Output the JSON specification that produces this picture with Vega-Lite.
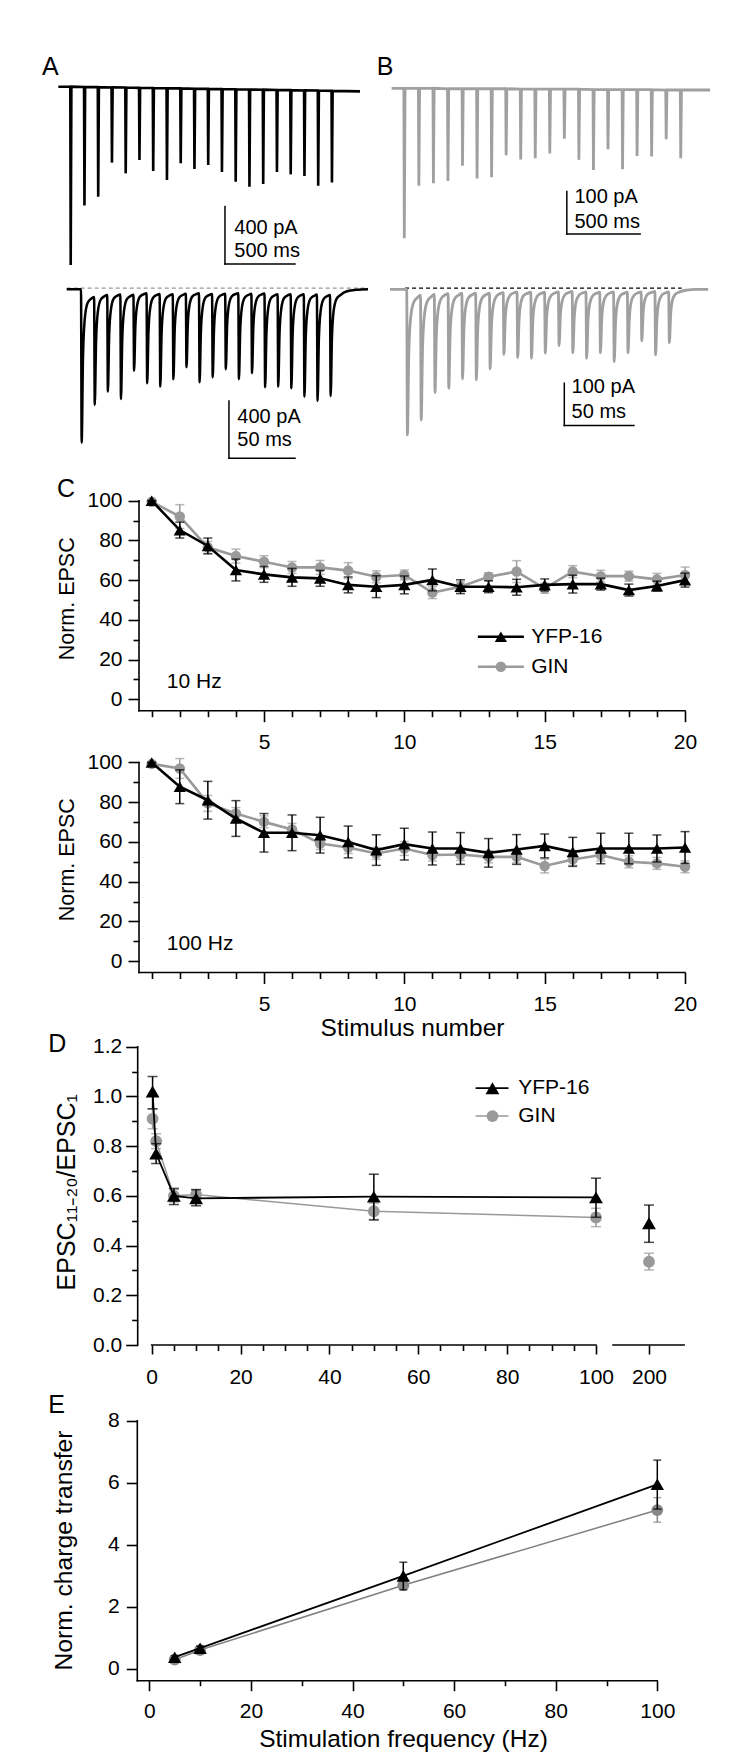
{
"$schema": "https://vega.github.io/schema/vega-lite/v6.json",
"width": 750,
"height": 1760,
"autosize": {"type": "none"},
"padding": 0,
"background": "white",
"config": {
  "view": {"stroke": null},
  "font": "Liberation Sans",
  "text": {"font": "Liberation Sans", "color": "black"},
  "axis": {"domain": false, "tickColor": "black", "labelColor": "black", "titleColor": "black", "labelFont": "Liberation Sans", "titleFont": "Liberation Sans", "labelFontSize": 21, "titleFontWeight": "normal", "grid": false, "tickWidth": 1.6, "labelFlush": false, "labelOverlap": false}
},
"resolve": {"scale": {"x": "independent", "y": "independent"}, "axis": {"x": "independent", "y": "independent"}},
"datasets": {
  "atop": [
    {"t":-90,"pA":0},
    {"t":-3,"pA":0},{"t":0,"pA":-1244},{"t":5,"pA":0},
    {"t":97,"pA":-2},{"t":100,"pA":-830},{"t":105,"pA":-2},
    {"t":197,"pA":-3},{"t":200,"pA":-768},{"t":205,"pA":-3},
    {"t":297,"pA":-5},{"t":300,"pA":-530},{"t":305,"pA":-5},
    {"t":397,"pA":-6},{"t":400,"pA":-605},{"t":405,"pA":-6},
    {"t":497,"pA":-8},{"t":500,"pA":-512},{"t":505,"pA":-8},
    {"t":597,"pA":-9},{"t":600,"pA":-588},{"t":605,"pA":-9},
    {"t":697,"pA":-11},{"t":700,"pA":-651},{"t":705,"pA":-11},
    {"t":797,"pA":-12},{"t":800,"pA":-535},{"t":805,"pA":-12},
    {"t":897,"pA":-14},{"t":900,"pA":-574},{"t":905,"pA":-14},
    {"t":997,"pA":-15},{"t":1000,"pA":-547},{"t":1005,"pA":-15},
    {"t":1097,"pA":-17},{"t":1100,"pA":-595},{"t":1105,"pA":-17},
    {"t":1197,"pA":-18},{"t":1200,"pA":-663},{"t":1205,"pA":-18},
    {"t":1297,"pA":-20},{"t":1300,"pA":-698},{"t":1305,"pA":-20},
    {"t":1397,"pA":-21},{"t":1400,"pA":-679},{"t":1405,"pA":-21},
    {"t":1497,"pA":-23},{"t":1500,"pA":-595},{"t":1505,"pA":-23},
    {"t":1597,"pA":-24},{"t":1600,"pA":-612},{"t":1605,"pA":-24},
    {"t":1697,"pA":-26},{"t":1700,"pA":-623},{"t":1705,"pA":-26},
    {"t":1797,"pA":-27},{"t":1800,"pA":-691},{"t":1805,"pA":-27},
    {"t":1897,"pA":-29},{"t":1900,"pA":-668},{"t":1905,"pA":-29},
    {"t":2104,"pA":-33}
  ],
  "btop": [
    {"t":-87,"pA":0},
    {"t":-3,"pA":0},{"t":0,"pA":-354},{"t":5,"pA":0},
    {"t":97,"pA":0},{"t":100,"pA":-230},{"t":105,"pA":0},
    {"t":197,"pA":0},{"t":200,"pA":-224},{"t":205,"pA":0},
    {"t":297,"pA":-1},{"t":300,"pA":-219},{"t":305,"pA":-1},
    {"t":397,"pA":-1},{"t":400,"pA":-183},{"t":405,"pA":-1},
    {"t":497,"pA":-1},{"t":500,"pA":-213},{"t":505,"pA":-1},
    {"t":597,"pA":-1},{"t":600,"pA":-210},{"t":605,"pA":-1},
    {"t":697,"pA":-1},{"t":700,"pA":-158},{"t":705,"pA":-1},
    {"t":797,"pA":-2},{"t":800,"pA":-168},{"t":805,"pA":-2},
    {"t":897,"pA":-2},{"t":900,"pA":-165},{"t":905,"pA":-2},
    {"t":997,"pA":-2},{"t":1000,"pA":-154},{"t":1005,"pA":-2},
    {"t":1097,"pA":-2},{"t":1100,"pA":-119},{"t":1105,"pA":-2},
    {"t":1197,"pA":-2},{"t":1200,"pA":-169},{"t":1205,"pA":-2},
    {"t":1297,"pA":-3},{"t":1300,"pA":-193},{"t":1305,"pA":-3},
    {"t":1397,"pA":-3},{"t":1400,"pA":-144},{"t":1405,"pA":-3},
    {"t":1497,"pA":-3},{"t":1500,"pA":-191},{"t":1505,"pA":-3},
    {"t":1597,"pA":-3},{"t":1600,"pA":-160},{"t":1605,"pA":-3},
    {"t":1697,"pA":-3},{"t":1700,"pA":-161},{"t":1705,"pA":-3},
    {"t":1797,"pA":-4},{"t":1800,"pA":-120},{"t":1805,"pA":-4},
    {"t":1897,"pA":-4},{"t":1900,"pA":-165},{"t":1905,"pA":-4},
    {"t":2102,"pA":-4}
  ],
  "abot": [
    {"t":-10.9,"pA":0},
    {"t":0,"pA":0},{"t":0.5,"pA":-1070},{"t":1.5,"pA":-482},{"t":2.8,"pA":-214},{"t":5,"pA":-96},{"t":8,"pA":-64},
    {"t":10,"pA":-54},{"t":10.5,"pA":-807},{"t":11.5,"pA":-363},{"t":12.8,"pA":-161},{"t":15,"pA":-73},{"t":18,"pA":-48},
    {"t":20,"pA":-40},{"t":20.5,"pA":-714},{"t":21.5,"pA":-321},{"t":22.8,"pA":-143},{"t":25,"pA":-64},{"t":28,"pA":-43},
    {"t":30,"pA":-36},{"t":30.5,"pA":-765},{"t":31.5,"pA":-344},{"t":32.8,"pA":-153},{"t":35,"pA":-69},{"t":38,"pA":-46},
    {"t":40,"pA":-38},{"t":40.5,"pA":-568},{"t":41.5,"pA":-256},{"t":42.8,"pA":-114},{"t":45,"pA":-51},{"t":48,"pA":-34},
    {"t":50,"pA":-28},{"t":50.5,"pA":-656},{"t":51.5,"pA":-295},{"t":52.8,"pA":-131},{"t":55,"pA":-59},{"t":58,"pA":-39},
    {"t":60,"pA":-33},{"t":60.5,"pA":-679},{"t":61.5,"pA":-306},{"t":62.8,"pA":-136},{"t":65,"pA":-61},{"t":68,"pA":-41},
    {"t":70,"pA":-34},{"t":70.5,"pA":-628},{"t":71.5,"pA":-283},{"t":72.8,"pA":-126},{"t":75,"pA":-57},{"t":78,"pA":-38},
    {"t":80,"pA":-31},{"t":80.5,"pA":-544},{"t":81.5,"pA":-245},{"t":82.8,"pA":-109},{"t":85,"pA":-49},{"t":88,"pA":-33},
    {"t":90,"pA":-27},{"t":90.5,"pA":-649},{"t":91.5,"pA":-292},{"t":92.8,"pA":-130},{"t":95,"pA":-58},{"t":98,"pA":-39},
    {"t":100,"pA":-32},{"t":100.5,"pA":-614},{"t":101.5,"pA":-276},{"t":102.8,"pA":-123},{"t":105,"pA":-55},{"t":108,"pA":-37},
    {"t":110,"pA":-31},{"t":110.5,"pA":-558},{"t":111.5,"pA":-251},{"t":112.8,"pA":-112},{"t":115,"pA":-50},{"t":118,"pA":-33},
    {"t":120,"pA":-28},{"t":120.5,"pA":-628},{"t":121.5,"pA":-283},{"t":122.8,"pA":-126},{"t":125,"pA":-57},{"t":128,"pA":-38},
    {"t":130,"pA":-31},{"t":130.5,"pA":-586},{"t":131.5,"pA":-264},{"t":132.8,"pA":-117},{"t":135,"pA":-53},{"t":138,"pA":-35},
    {"t":140,"pA":-29},{"t":140.5,"pA":-684},{"t":141.5,"pA":-308},{"t":142.8,"pA":-137},{"t":145,"pA":-62},{"t":148,"pA":-41},
    {"t":150,"pA":-34},{"t":150.5,"pA":-679},{"t":151.5,"pA":-306},{"t":152.8,"pA":-136},{"t":155,"pA":-61},{"t":158,"pA":-41},
    {"t":160,"pA":-34},{"t":160.5,"pA":-691},{"t":161.5,"pA":-311},{"t":162.8,"pA":-138},{"t":165,"pA":-62},{"t":168,"pA":-41},
    {"t":170,"pA":-35},{"t":170.5,"pA":-749},{"t":171.5,"pA":-337},{"t":172.8,"pA":-150},{"t":175,"pA":-67},{"t":178,"pA":-45},
    {"t":180,"pA":-37},{"t":180.5,"pA":-779},{"t":181.5,"pA":-351},{"t":182.8,"pA":-156},{"t":185,"pA":-70},{"t":188,"pA":-47},
    {"t":190,"pA":-39},{"t":190.5,"pA":-744},{"t":191.5,"pA":-335},{"t":192.8,"pA":-149},{"t":195,"pA":-67},{"t":198,"pA":-40},
    {"t":203,"pA":-14},{"t":210,"pA":-4},{"t":219,"pA":0}
  ],
  "bbot": [
    {"t":-12.1,"pA":0},
    {"t":0,"pA":0},{"t":0.5,"pA":-344},{"t":1.5,"pA":-155},{"t":2.8,"pA":-69},{"t":5,"pA":-31},{"t":8,"pA":-19},
    {"t":10,"pA":-14},{"t":10.5,"pA":-309},{"t":11.5,"pA":-139},{"t":12.8,"pA":-62},{"t":15,"pA":-28},{"t":18,"pA":-17},
    {"t":20,"pA":-12},{"t":20.5,"pA":-244},{"t":21.5,"pA":-110},{"t":22.8,"pA":-49},{"t":25,"pA":-22},{"t":28,"pA":-13},
    {"t":30,"pA":-10},{"t":30.5,"pA":-234},{"t":31.5,"pA":-105},{"t":32.8,"pA":-47},{"t":35,"pA":-21},{"t":38,"pA":-13},
    {"t":40,"pA":-9},{"t":40.5,"pA":-212},{"t":41.5,"pA":-95},{"t":42.8,"pA":-42},{"t":45,"pA":-19},{"t":48,"pA":-12},
    {"t":50,"pA":-9},{"t":50.5,"pA":-214},{"t":51.5,"pA":-96},{"t":52.8,"pA":-43},{"t":55,"pA":-19},{"t":58,"pA":-12},
    {"t":60,"pA":-9},{"t":60.5,"pA":-188},{"t":61.5,"pA":-85},{"t":62.8,"pA":-38},{"t":65,"pA":-17},{"t":68,"pA":-10},
    {"t":70,"pA":-8},{"t":70.5,"pA":-154},{"t":71.5,"pA":-69},{"t":72.8,"pA":-31},{"t":75,"pA":-14},{"t":78,"pA":-8},
    {"t":80,"pA":-6},{"t":80.5,"pA":-161},{"t":81.5,"pA":-72},{"t":82.8,"pA":-32},{"t":85,"pA":-14},{"t":88,"pA":-9},
    {"t":90,"pA":-7},{"t":90.5,"pA":-163},{"t":91.5,"pA":-73},{"t":92.8,"pA":-33},{"t":95,"pA":-15},{"t":98,"pA":-9},
    {"t":100,"pA":-7},{"t":100.5,"pA":-151},{"t":101.5,"pA":-68},{"t":102.8,"pA":-30},{"t":105,"pA":-14},{"t":108,"pA":-8},
    {"t":110,"pA":-6},{"t":110.5,"pA":-133},{"t":111.5,"pA":-60},{"t":112.8,"pA":-27},{"t":115,"pA":-12},{"t":118,"pA":-7},
    {"t":120,"pA":-5},{"t":120.5,"pA":-150},{"t":121.5,"pA":-68},{"t":122.8,"pA":-30},{"t":125,"pA":-14},{"t":128,"pA":-8},
    {"t":130,"pA":-6},{"t":130.5,"pA":-163},{"t":131.5,"pA":-73},{"t":132.8,"pA":-33},{"t":135,"pA":-15},{"t":138,"pA":-9},
    {"t":140,"pA":-7},{"t":140.5,"pA":-150},{"t":141.5,"pA":-68},{"t":142.8,"pA":-30},{"t":145,"pA":-14},{"t":148,"pA":-8},
    {"t":150,"pA":-6},{"t":150.5,"pA":-171},{"t":151.5,"pA":-77},{"t":152.8,"pA":-34},{"t":155,"pA":-15},{"t":158,"pA":-9},
    {"t":160,"pA":-7},{"t":160.5,"pA":-150},{"t":161.5,"pA":-68},{"t":162.8,"pA":-30},{"t":165,"pA":-14},{"t":168,"pA":-8},
    {"t":170,"pA":-6},{"t":170.5,"pA":-122},{"t":171.5,"pA":-55},{"t":172.8,"pA":-24},{"t":175,"pA":-11},{"t":178,"pA":-7},
    {"t":180,"pA":-5},{"t":180.5,"pA":-155},{"t":181.5,"pA":-70},{"t":182.8,"pA":-31},{"t":185,"pA":-14},{"t":188,"pA":-8},
    {"t":190,"pA":-6},{"t":190.5,"pA":-126},{"t":191.5,"pA":-57},{"t":192.8,"pA":-25},{"t":195,"pA":-11},{"t":198,"pA":-6},
    {"t":203,"pA":-2},{"t":210,"pA":0},{"t":218.7,"pA":0}
  ],
  "c10": [
    {"stim":1,"line":"YFP-16","mean":100,"low":100,"high":100},
    {"stim":2,"line":"YFP-16","mean":85.2,"low":81.2,"high":89.2},
    {"stim":3,"line":"YFP-16","mean":77.2,"low":73.2,"high":81.2},
    {"stim":4,"line":"YFP-16","mean":65.1,"low":59.6,"high":70.6},
    {"stim":5,"line":"YFP-16","mean":62.9,"low":58.9,"high":66.9},
    {"stim":6,"line":"YFP-16","mean":61.4,"low":56.9,"high":65.9},
    {"stim":7,"line":"YFP-16","mean":60.9,"low":56.9,"high":64.9},
    {"stim":8,"line":"YFP-16","mean":57.6,"low":53.6,"high":61.6},
    {"stim":9,"line":"YFP-16","mean":56.7,"low":51.2,"high":62.2},
    {"stim":10,"line":"YFP-16","mean":57.6,"low":53.1,"high":62.1},
    {"stim":11,"line":"YFP-16","mean":60.1,"low":54.6,"high":65.6},
    {"stim":12,"line":"YFP-16","mean":56.7,"low":53.2,"high":60.2},
    {"stim":13,"line":"YFP-16","mean":56.7,"low":53.7,"high":59.7},
    {"stim":14,"line":"YFP-16","mean":56.4,"low":52.4,"high":60.4},
    {"stim":15,"line":"YFP-16","mean":57.6,"low":54.6,"high":60.6},
    {"stim":16,"line":"YFP-16","mean":58,"low":53.5,"high":62.5},
    {"stim":17,"line":"YFP-16","mean":58,"low":55,"high":61},
    {"stim":18,"line":"YFP-16","mean":55,"low":52,"high":58},
    {"stim":19,"line":"YFP-16","mean":57,"low":54.5,"high":59.5},
    {"stim":20,"line":"YFP-16","mean":60,"low":56.5,"high":63.5},
    {"stim":1,"line":"GIN","mean":99.5,"low":99.5,"high":99.5},
    {"stim":2,"line":"GIN","mean":92,"low":86,"high":98},
    {"stim":3,"line":"GIN","mean":76.5,"low":73.5,"high":79.5},
    {"stim":4,"line":"GIN","mean":72.1,"low":68.6,"high":75.6},
    {"stim":5,"line":"GIN","mean":69.3,"low":66.3,"high":72.3},
    {"stim":6,"line":"GIN","mean":66.4,"low":63.4,"high":69.4},
    {"stim":7,"line":"GIN","mean":66.4,"low":62.9,"high":69.9},
    {"stim":8,"line":"GIN","mean":64.8,"low":60.8,"high":68.8},
    {"stim":9,"line":"GIN","mean":61.7,"low":58.7,"high":64.7},
    {"stim":10,"line":"GIN","mean":62.6,"low":60.1,"high":65.1},
    {"stim":11,"line":"GIN","mean":53.7,"low":50.7,"high":56.7},
    {"stim":12,"line":"GIN","mean":56.7,"low":54.2,"high":59.2},
    {"stim":13,"line":"GIN","mean":61.7,"low":59.7,"high":63.7},
    {"stim":14,"line":"GIN","mean":64.3,"low":58.8,"high":69.8},
    {"stim":15,"line":"GIN","mean":55.9,"low":53.4,"high":58.4},
    {"stim":16,"line":"GIN","mean":64.3,"low":61.3,"high":67.3},
    {"stim":17,"line":"GIN","mean":62,"low":59,"high":65},
    {"stim":18,"line":"GIN","mean":62,"low":59.5,"high":64.5},
    {"stim":19,"line":"GIN","mean":60.4,"low":57.4,"high":63.4},
    {"stim":20,"line":"GIN","mean":62.6,"low":58.6,"high":66.6}
  ],
  "c100": [
    {"stim":1,"line":"YFP-16","mean":100,"low":100,"high":100},
    {"stim":2,"line":"YFP-16","mean":87.8,"low":79.3,"high":96.3},
    {"stim":3,"line":"YFP-16","mean":81,"low":71.5,"high":90.5},
    {"stim":4,"line":"YFP-16","mean":71.8,"low":62.8,"high":80.8},
    {"stim":5,"line":"YFP-16","mean":64.6,"low":54.9,"high":74.3},
    {"stim":6,"line":"YFP-16","mean":64.6,"low":55.6,"high":73.6},
    {"stim":7,"line":"YFP-16","mean":63.4,"low":54.4,"high":72.4},
    {"stim":8,"line":"YFP-16","mean":60,"low":52,"high":68},
    {"stim":9,"line":"YFP-16","mean":55.9,"low":48.2,"high":63.6},
    {"stim":10,"line":"YFP-16","mean":58.9,"low":50.9,"high":66.9},
    {"stim":11,"line":"YFP-16","mean":56.7,"low":48.4,"high":65},
    {"stim":12,"line":"YFP-16","mean":56.7,"low":48.7,"high":64.7},
    {"stim":13,"line":"YFP-16","mean":54.5,"low":47.3,"high":61.7},
    {"stim":14,"line":"YFP-16","mean":56.2,"low":48.7,"high":63.7},
    {"stim":15,"line":"YFP-16","mean":58,"low":52,"high":64},
    {"stim":16,"line":"YFP-16","mean":55,"low":47.7,"high":62.3},
    {"stim":17,"line":"YFP-16","mean":56.7,"low":49,"high":64.4},
    {"stim":18,"line":"YFP-16","mean":56.7,"low":49,"high":64.4},
    {"stim":19,"line":"YFP-16","mean":56.7,"low":49.9,"high":63.5},
    {"stim":20,"line":"YFP-16","mean":57.2,"low":49.2,"high":65.2},
    {"stim":1,"line":"GIN","mean":99.3,"low":99.3,"high":99.3},
    {"stim":2,"line":"GIN","mean":97,"low":92,"high":102},
    {"stim":3,"line":"GIN","mean":79.4,"low":75.4,"high":83.4},
    {"stim":4,"line":"GIN","mean":74.3,"low":71.3,"high":77.3},
    {"stim":5,"line":"GIN","mean":70.1,"low":67.1,"high":73.1},
    {"stim":6,"line":"GIN","mean":66.3,"low":63.3,"high":69.3},
    {"stim":7,"line":"GIN","mean":59.2,"low":56.2,"high":62.2},
    {"stim":8,"line":"GIN","mean":57.2,"low":54.2,"high":60.2},
    {"stim":9,"line":"GIN","mean":54.2,"low":51.2,"high":57.2},
    {"stim":10,"line":"GIN","mean":56.7,"low":53.2,"high":60.2},
    {"stim":11,"line":"GIN","mean":53.4,"low":50.4,"high":56.4},
    {"stim":12,"line":"GIN","mean":53.7,"low":50.7,"high":56.7},
    {"stim":13,"line":"GIN","mean":52.5,"low":49.5,"high":55.5},
    {"stim":14,"line":"GIN","mean":52.5,"low":49.5,"high":55.5},
    {"stim":15,"line":"GIN","mean":47.9,"low":44.4,"high":51.4},
    {"stim":16,"line":"GIN","mean":51.2,"low":48.2,"high":54.2},
    {"stim":17,"line":"GIN","mean":53.4,"low":50.4,"high":56.4},
    {"stim":18,"line":"GIN","mean":50,"low":47,"high":53},
    {"stim":19,"line":"GIN","mean":49.2,"low":46.2,"high":52.2},
    {"stim":20,"line":"GIN","mean":47.5,"low":44.5,"high":50.5}
  ],
  "dd": [
    {"freq":0.2,"line":"YFP-16","mean":1.02,"low":0.95,"high":1.08},
    {"freq":1,"line":"YFP-16","mean":0.77,"low":0.73,"high":0.81},
    {"freq":5,"line":"YFP-16","mean":0.6,"low":0.565,"high":0.63},
    {"freq":10,"line":"YFP-16","mean":0.59,"low":0.56,"high":0.625},
    {"freq":50,"line":"YFP-16","mean":0.597,"low":0.503,"high":0.687},
    {"freq":100,"line":"YFP-16","mean":0.594,"low":0.514,"high":0.671},
    {"freq":200,"line":"YFP-16","mean":0.49,"low":0.413,"high":0.563},
    {"freq":0.2,"line":"GIN","mean":0.91,"low":0.87,"high":0.95},
    {"freq":1,"line":"GIN","mean":0.82,"low":0.79,"high":0.85},
    {"freq":5,"line":"GIN","mean":0.6,"low":0.575,"high":0.625},
    {"freq":10,"line":"GIN","mean":0.605,"low":0.585,"high":0.625},
    {"freq":50,"line":"GIN","mean":0.538,"low":0.505,"high":0.57},
    {"freq":100,"line":"GIN","mean":0.513,"low":0.476,"high":0.55},
    {"freq":200,"line":"GIN","mean":0.335,"low":0.302,"high":0.369}
  ],
  "ee": [
    {"freq":5,"line":"YFP-16","mean":0.38,"low":0.33,"high":0.43},
    {"freq":10,"line":"YFP-16","mean":0.67,"low":0.6,"high":0.74},
    {"freq":50,"line":"YFP-16","mean":3.0,"low":2.55,"high":3.44},
    {"freq":100,"line":"YFP-16","mean":5.95,"low":5.15,"high":6.73},
    {"freq":5,"line":"GIN","mean":0.3,"low":0.25,"high":0.35},
    {"freq":10,"line":"GIN","mean":0.61,"low":0.55,"high":0.67},
    {"freq":50,"line":"GIN","mean":2.7,"low":2.6,"high":2.8},
    {"freq":100,"line":"GIN","mean":5.12,"low":4.73,"high":5.52}
  ]
},
"layer": [
  {"data": {"name": "atop"},
   "layer": [
    {"mark": {"type": "line", "color": "black", "strokeWidth": 2.6},
     "encoding": {"x": {"field": "t", "type": "quantitative", "scale": {"domain": [-514.2, 4940.4], "nice": false, "zero": false}, "axis": null},
                  "y": {"field": "pA", "type": "quantitative", "scale": {"domain": [-11679.7, 605.1], "nice": false, "zero": false}, "axis": null}}},
    {"data": {"values": [{}]}, "mark": {"type": "rule", "color": "black", "strokeWidth": 1.5, "strokeCap": "square"}, "encoding": {"x": {"datum": 1122, "axis": null}, "y": {"datum": -837, "axis": null}, "y2": {"datum": -1237}}},
    {"data": {"values": [{}]}, "mark": {"type": "rule", "color": "black", "strokeWidth": 1.5, "strokeCap": "square"}, "encoding": {"x": {"datum": 1122, "axis": null}, "x2": {"datum": 1631}, "y": {"datum": -1237, "axis": null}}},
    {"data": {"values": [{}]}, "mark": {"type": "text", "text": "400 pA", "align": "left", "baseline": "middle", "fontSize": 20}, "encoding": {"x": {"datum": 1190, "axis": null}, "y": {"datum": -988, "axis": null}}},
    {"data": {"values": [{}]}, "mark": {"type": "text", "text": "500 ms", "align": "left", "baseline": "middle", "fontSize": 20}, "encoding": {"x": {"datum": 1190, "axis": null}, "y": {"datum": -1144, "axis": null}}},
    {"data": {"values": [{}]}, "mark": {"type": "text", "text": "A", "align": "left", "baseline": "alphabetic", "fontSize": 25}, "encoding": {"x": {"datum": -209, "axis": null}, "y": {"datum": 81.6, "axis": null}}}
   ]},
  {"data": {"name": "btop"},
   "layer": [
    {"mark": {"type": "line", "color": "#a0a0a0", "strokeWidth": 2.8},
     "encoding": {"x": {"field": "t", "type": "quantitative", "scale": {"domain": [-2778.9, 2376.1], "nice": false, "zero": false}, "axis": null},
                  "y": {"field": "pA", "type": "quantitative", "scale": {"domain": [-3948.6, 208.6], "nice": false, "zero": false}, "axis": null}}},
    {"data": {"values": [{}]}, "mark": {"type": "rule", "color": "black", "strokeWidth": 1.5, "strokeCap": "square"}, "encoding": {"x": {"datum": 1117, "axis": null}, "y": {"datum": -244, "axis": null}, "y2": {"datum": -344}}},
    {"data": {"values": [{}]}, "mark": {"type": "rule", "color": "black", "strokeWidth": 1.5, "strokeCap": "square"}, "encoding": {"x": {"datum": 1117, "axis": null}, "x2": {"datum": 1621}, "y": {"datum": -344, "axis": null}}},
    {"data": {"values": [{}]}, "mark": {"type": "text", "text": "100 pA", "align": "left", "baseline": "middle", "fontSize": 20}, "encoding": {"x": {"datum": 1169, "axis": null}, "y": {"datum": -256, "axis": null}}},
    {"data": {"values": [{}]}, "mark": {"type": "text", "text": "500 ms", "align": "left", "baseline": "middle", "fontSize": 20}, "encoding": {"x": {"datum": 1169, "axis": null}, "y": {"datum": -315, "axis": null}}},
    {"data": {"values": [{}]}, "mark": {"type": "text", "text": "B", "align": "left", "baseline": "alphabetic", "fontSize": 25}, "encoding": {"x": {"datum": -190, "axis": null}, "y": {"datum": 31.4, "axis": null}}}
   ]},
  {"data": {"name": "abot"},
   "layer": [
    {"data": {"values": [{}]}, "mark": {"type": "rule", "color": "#999999", "strokeWidth": 1.3, "strokeDash": [4, 3]}, "encoding": {"x": {"datum": -10.9, "axis": null}, "x2": {"datum": 219}, "y": {"datum": 8, "axis": null}}},
    {"mark": {"type": "line", "color": "black", "strokeWidth": 2.5, "interpolate": "monotone"},
     "encoding": {"x": {"field": "t", "type": "quantitative", "scale": {"domain": [-61.81, 510.49], "nice": false, "zero": false}, "axis": null},
                  "y": {"field": "pA", "type": "quantitative", "scale": {"domain": [-10263.1, 2018.8], "nice": false, "zero": false}, "axis": null}}},
    {"data": {"values": [{}]}, "mark": {"type": "rule", "color": "black", "strokeWidth": 1.5, "strokeCap": "square"}, "encoding": {"x": {"datum": 112.9, "axis": null}, "y": {"datum": -779.5, "axis": null}, "y2": {"datum": -1179}}},
    {"data": {"values": [{}]}, "mark": {"type": "rule", "color": "black", "strokeWidth": 1.5, "strokeCap": "square"}, "encoding": {"x": {"datum": 112.9, "axis": null}, "x2": {"datum": 163.3}, "y": {"datum": -1179, "axis": null}}},
    {"data": {"values": [{}]}, "mark": {"type": "text", "text": "400 pA", "align": "left", "baseline": "middle", "fontSize": 20}, "encoding": {"x": {"datum": 119.3, "axis": null}, "y": {"datum": -889, "axis": null}}},
    {"data": {"values": [{}]}, "mark": {"type": "text", "text": "50 ms", "align": "left", "baseline": "middle", "fontSize": 20}, "encoding": {"x": {"datum": 119.3, "axis": null}, "y": {"datum": -1055, "axis": null}}}
   ]},
  {"data": {"name": "bbot"},
   "layer": [
    {"data": {"values": [{}]}, "mark": {"type": "rule", "color": "black", "strokeWidth": 1.3, "strokeDash": [4, 3]}, "encoding": {"x": {"datum": -1.2, "axis": null}, "x2": {"datum": 199.4}, "y": {"datum": 3, "axis": null}}},
    {"mark": {"type": "line", "color": "#a0a0a0", "strokeWidth": 2.8, "interpolate": "monotone"},
     "encoding": {"x": {"field": "t", "type": "quantitative", "scale": {"domain": [-294.99, 248.99], "nice": false, "zero": false}, "axis": null},
                  "y": {"field": "pA", "type": "quantitative", "scale": {"domain": [-3474.7, 683.5], "nice": false, "zero": false}, "axis": null}}},
    {"data": {"values": [{}]}, "mark": {"type": "rule", "color": "black", "strokeWidth": 1.5, "strokeCap": "square"}, "encoding": {"x": {"datum": 114.3, "axis": null}, "y": {"datum": -222, "axis": null}, "y2": {"datum": -322}}},
    {"data": {"values": [{}]}, "mark": {"type": "rule", "color": "black", "strokeWidth": 1.5, "strokeCap": "square"}, "encoding": {"x": {"datum": 114.3, "axis": null}, "x2": {"datum": 164.8}, "y": {"datum": -322, "axis": null}}},
    {"data": {"values": [{}]}, "mark": {"type": "text", "text": "100 pA", "align": "left", "baseline": "middle", "fontSize": 20}, "encoding": {"x": {"datum": 119.6, "axis": null}, "y": {"datum": -230, "axis": null}}},
    {"data": {"values": [{}]}, "mark": {"type": "text", "text": "50 ms", "align": "left", "baseline": "middle", "fontSize": 20}, "encoding": {"x": {"datum": 119.6, "axis": null}, "y": {"datum": -289, "axis": null}}}
   ]},
  {"data": {"name": "c10"},
   "encoding": {
     "x": {"field": "stim", "type": "quantitative", "scale": {"domain": [-4.4043, 22.3146], "nice": false, "zero": false},
           "axis": {"orient": "bottom", "offset": -1049.3, "values": [1,2,3,4,5,6,7,8,9,10,11,12,13,14,15,16,17,18,19,20], "labelExpr": "datum.value % 5 === 0 ? datum.label : ''", "tickSize": {"condition": {"test": "datum.value % 5 === 0", "value": 11}, "value": 6}, "labelPadding": 10, "title": null}},
     "y": {"field": "mean", "type": "quantitative", "scale": {"domain": [-534.09, 352.11], "nice": false, "zero": false},
           "axis": {"orient": "left", "offset": -139, "values": [0,10,20,30,40,50,60,70,80,90,100], "labelExpr": "datum.value % 20 === 0 ? datum.label : ''", "tickSize": {"condition": {"test": "datum.value % 20 === 0", "value": 11}, "value": 6}, "labelPadding": 6, "title": "Norm. EPSC", "titleFontSize": 21.5, "titleX": -72, "titleY": 598.3, "titleBaseline": "middle"}}
   },
   "layer": [
    {"transform": [{"filter": "datum.line === 'GIN'"}], "mark": {"type": "errorbar", "ticks": {"size": 9}, "thickness": 1.5, "color": "#9a9a9a"}, "encoding": {"y": {"field": "low", "type": "quantitative"}, "y2": {"field": "high"}}},
    {"transform": [{"filter": "datum.line === 'GIN'"}], "mark": {"type": "line", "color": "#9a9a9a", "strokeWidth": 2.6}},
    {"transform": [{"filter": "datum.line === 'GIN'"}], "mark": {"type": "point", "shape": "circle", "filled": true, "opacity": 1, "color": "#9a9a9a", "size": 110}},
    {"transform": [{"filter": "datum.line === 'YFP-16'"}], "mark": {"type": "errorbar", "ticks": {"size": 9}, "thickness": 1.5, "color": "black"}, "encoding": {"y": {"field": "low", "type": "quantitative"}, "y2": {"field": "high"}}},
    {"transform": [{"filter": "datum.line === 'YFP-16'"}], "mark": {"type": "line", "color": "black", "strokeWidth": 2.6}},
    {"transform": [{"filter": "datum.line === 'YFP-16'"}], "mark": {"type": "point", "shape": "triangle-up", "filled": true, "opacity": 1, "color": "black", "size": 150}}
   ]},
  {"data": {"values": [{}]},
   "layer": [
    {"mark": {"type": "rule", "color": "black", "strokeWidth": 1.6, "strokeCap": "square"}, "encoding": {"x": {"datum": 0.548, "scale": {"domain": [-4.4043, 22.3146], "nice": false, "zero": false}, "axis": null}, "x2": {"datum": 20}, "y": {"datum": -5.74, "scale": {"domain": [-534.09, 352.11], "nice": false, "zero": false}, "axis": null}}},
    {"mark": {"type": "rule", "color": "black", "strokeWidth": 1.6, "strokeCap": "square"}, "encoding": {"x": {"datum": 0.548, "scale": {"domain": [-4.4043, 22.3146], "nice": false, "zero": false}, "axis": null}, "y": {"datum": -5.74, "scale": {"domain": [-534.09, 352.11], "nice": false, "zero": false}, "axis": null}, "y2": {"datum": 100}}},
    {"mark": {"type": "rule", "color": "black", "strokeWidth": 2.6}, "encoding": {"x": {"datum": 12.62, "scale": {"domain": [-4.4043, 22.3146], "nice": false, "zero": false}, "axis": null}, "x2": {"datum": 14.26}, "y": {"datum": 31.5, "scale": {"domain": [-534.09, 352.11], "nice": false, "zero": false}, "axis": null}}},
    {"mark": {"type": "point", "shape": "triangle-up", "filled": true, "opacity": 1, "color": "black", "size": 150}, "encoding": {"x": {"datum": 13.44, "scale": {"domain": [-4.4043, 22.3146], "nice": false, "zero": false}, "axis": null}, "y": {"datum": 31.5, "scale": {"domain": [-534.09, 352.11], "nice": false, "zero": false}, "axis": null}}},
    {"mark": {"type": "text", "text": "YFP-16", "align": "left", "baseline": "middle", "fontSize": 21}, "encoding": {"x": {"datum": 14.52, "scale": {"domain": [-4.4043, 22.3146], "nice": false, "zero": false}, "axis": null}, "y": {"datum": 31.5, "scale": {"domain": [-534.09, 352.11], "nice": false, "zero": false}, "axis": null}}},
    {"mark": {"type": "rule", "color": "#9a9a9a", "strokeWidth": 2.6}, "encoding": {"x": {"datum": 12.62, "scale": {"domain": [-4.4043, 22.3146], "nice": false, "zero": false}, "axis": null}, "x2": {"datum": 14.26}, "y": {"datum": 16.4, "scale": {"domain": [-534.09, 352.11], "nice": false, "zero": false}, "axis": null}}},
    {"mark": {"type": "point", "shape": "circle", "filled": true, "opacity": 1, "color": "#9a9a9a", "size": 110}, "encoding": {"x": {"datum": 13.44, "scale": {"domain": [-4.4043, 22.3146], "nice": false, "zero": false}, "axis": null}, "y": {"datum": 16.4, "scale": {"domain": [-534.09, 352.11], "nice": false, "zero": false}, "axis": null}}},
    {"mark": {"type": "text", "text": "GIN", "align": "left", "baseline": "middle", "fontSize": 21}, "encoding": {"x": {"datum": 14.52, "scale": {"domain": [-4.4043, 22.3146], "nice": false, "zero": false}, "axis": null}, "y": {"datum": 16.4, "scale": {"domain": [-534.09, 352.11], "nice": false, "zero": false}, "axis": null}}},
    {"mark": {"type": "text", "text": "10 Hz", "align": "left", "baseline": "alphabetic", "fontSize": 21}, "encoding": {"x": {"datum": 1.54, "scale": {"domain": [-4.4043, 22.3146], "nice": false, "zero": false}, "axis": null}, "y": {"datum": 5.7, "scale": {"domain": [-534.09, 352.11], "nice": false, "zero": false}, "axis": null}}},
    {"mark": {"type": "text", "text": "C", "align": "left", "baseline": "alphabetic", "fontSize": 25}, "encoding": {"x": {"datum": -2.37, "scale": {"domain": [-4.4043, 22.3146], "nice": false, "zero": false}, "axis": null}, "y": {"datum": 101.9, "scale": {"domain": [-534.09, 352.11], "nice": false, "zero": false}, "axis": null}}}
   ]},
  {"data": {"name": "c100"},
   "encoding": {
     "x": {"field": "stim", "type": "quantitative", "scale": {"domain": [-4.4043, 22.3146], "nice": false, "zero": false},
           "axis": {"orient": "bottom", "offset": -787.5, "values": [1,2,3,4,5,6,7,8,9,10,11,12,13,14,15,16,17,18,19,20], "labelExpr": "datum.value % 5 === 0 ? datum.label : ''", "tickSize": {"condition": {"test": "datum.value % 5 === 0", "value": 11}, "value": 6}, "labelPadding": 10, "title": "Stimulus number", "titleFontSize": 24.5, "titleX": 412, "titleY": 63, "titleBaseline": "alphabetic"}},
     "y": {"field": "mean", "type": "quantitative", "scale": {"domain": [-402.27, 483.94], "nice": false, "zero": false},
           "axis": {"orient": "left", "offset": -139, "values": [0,10,20,30,40,50,60,70,80,90,100], "labelExpr": "datum.value % 20 === 0 ? datum.label : ''", "tickSize": {"condition": {"test": "datum.value % 20 === 0", "value": 11}, "value": 6}, "labelPadding": 6, "title": "Norm. EPSC", "titleFontSize": 21.5, "titleX": -72, "titleY": 859.2, "titleBaseline": "middle"}}
   },
   "layer": [
    {"transform": [{"filter": "datum.line === 'GIN'"}], "mark": {"type": "errorbar", "ticks": {"size": 9}, "thickness": 1.5, "color": "#9a9a9a"}, "encoding": {"y": {"field": "low", "type": "quantitative"}, "y2": {"field": "high"}}},
    {"transform": [{"filter": "datum.line === 'GIN'"}], "mark": {"type": "line", "color": "#9a9a9a", "strokeWidth": 2.6}},
    {"transform": [{"filter": "datum.line === 'GIN'"}], "mark": {"type": "point", "shape": "circle", "filled": true, "opacity": 1, "color": "#9a9a9a", "size": 110}},
    {"transform": [{"filter": "datum.line === 'YFP-16'"}], "mark": {"type": "errorbar", "ticks": {"size": 9}, "thickness": 1.5, "color": "black"}, "encoding": {"y": {"field": "low", "type": "quantitative"}, "y2": {"field": "high"}}},
    {"transform": [{"filter": "datum.line === 'YFP-16'"}], "mark": {"type": "line", "color": "black", "strokeWidth": 2.6}},
    {"transform": [{"filter": "datum.line === 'YFP-16'"}], "mark": {"type": "point", "shape": "triangle-up", "filled": true, "opacity": 1, "color": "black", "size": 150}}
   ]},
  {"data": {"values": [{}]},
   "layer": [
    {"mark": {"type": "rule", "color": "black", "strokeWidth": 1.6, "strokeCap": "square"}, "encoding": {"x": {"datum": 0.548, "scale": {"domain": [-4.4043, 22.3146], "nice": false, "zero": false}, "axis": null}, "x2": {"datum": 20}, "y": {"datum": -5.74, "scale": {"domain": [-402.27, 483.94], "nice": false, "zero": false}, "axis": null}}},
    {"mark": {"type": "rule", "color": "black", "strokeWidth": 1.6, "strokeCap": "square"}, "encoding": {"x": {"datum": 0.548, "scale": {"domain": [-4.4043, 22.3146], "nice": false, "zero": false}, "axis": null}, "y": {"datum": -5.74, "scale": {"domain": [-402.27, 483.94], "nice": false, "zero": false}, "axis": null}, "y2": {"datum": 100}}},
    {"mark": {"type": "text", "text": "100 Hz", "align": "left", "baseline": "alphabetic", "fontSize": 21}, "encoding": {"x": {"datum": 1.54, "scale": {"domain": [-4.4043, 22.3146], "nice": false, "zero": false}, "axis": null}, "y": {"datum": 5.5, "scale": {"domain": [-402.27, 483.94], "nice": false, "zero": false}, "axis": null}}}
   ]},
  {"data": {"name": "dd"},
   "transform": [{"filter": "datum.freq <= 100"}],
   "encoding": {
     "x": {"field": "freq", "type": "quantitative", "scale": {"domain": [-34.143, 134.667], "nice": false, "zero": false},
           "axis": {"orient": "bottom", "offset": -415, "values": [0,5,10,15,20,25,30,35,40,45,50,55,60,65,70,75,80,85,90,95,100], "labelExpr": "datum.value % 20 === 0 ? datum.label : ''", "tickSize": {"condition": {"test": "datum.value % 20 === 0", "value": 9}, "value": 5.5}, "labelPadding": 12, "title": null}},
     "y": {"field": "mean", "type": "quantitative", "scale": {"domain": [-1.6695, 5.4108], "nice": false, "zero": false},
           "axis": {"orient": "left", "offset": -137.7, "values": [0,0.1,0.2,0.3,0.4,0.5,0.6,0.7,0.8,0.9,1.0,1.1,1.2], "labelExpr": "round(datum.value*10) % 2 === 0 ? format(datum.value, '.1f') : ''", "tickSize": {"condition": {"test": "round(datum.value*10) % 2 === 0", "value": 12}, "value": 6}, "labelPadding": 4, "title": "EPSC₁₁₋₂₀/EPSC₁", "titleFontSize": 25, "titleX": -71, "titleY": 1191.7, "titleBaseline": "middle"}}
   },
   "layer": [
    {"transform": [{"filter": "datum.line === 'GIN'"}], "mark": {"type": "errorbar", "ticks": {"size": 10}, "thickness": 1.5, "color": "#999999"}, "encoding": {"y": {"field": "low", "type": "quantitative"}, "y2": {"field": "high"}}},
    {"transform": [{"filter": "datum.line === 'GIN'"}], "mark": {"type": "line", "color": "#999999", "strokeWidth": 1.5}},
    {"transform": [{"filter": "datum.line === 'GIN'"}], "mark": {"type": "point", "shape": "circle", "filled": true, "opacity": 1, "color": "#999999", "size": 140}},
    {"transform": [{"filter": "datum.line === 'YFP-16'"}], "mark": {"type": "errorbar", "ticks": {"size": 10}, "thickness": 1.5, "color": "black"}, "encoding": {"y": {"field": "low", "type": "quantitative"}, "y2": {"field": "high"}}},
    {"transform": [{"filter": "datum.line === 'YFP-16'"}], "mark": {"type": "line", "color": "black", "strokeWidth": 1.8}},
    {"transform": [{"filter": "datum.line === 'YFP-16'"}], "mark": {"type": "point", "shape": "triangle-up", "filled": true, "opacity": 1, "color": "black", "size": 190}}
   ]},
  {"data": {"values": [{}]},
   "layer": [
    {"mark": {"type": "rule", "color": "black", "strokeWidth": 1.6, "strokeCap": "square"}, "encoding": {"x": {"datum": 0, "scale": {"domain": [-34.143, 134.667], "nice": false, "zero": false}, "axis": null}, "x2": {"datum": 100}, "y": {"datum": 0, "scale": {"domain": [-1.6695, 5.4108], "nice": false, "zero": false}, "axis": null}}},
    {"mark": {"type": "rule", "color": "black", "strokeWidth": 1.6, "strokeCap": "square"}, "encoding": {"x": {"datum": -3.151, "scale": {"domain": [-34.143, 134.667], "nice": false, "zero": false}, "axis": null}, "y": {"datum": 0, "scale": {"domain": [-1.6695, 5.4108], "nice": false, "zero": false}, "axis": null}, "y2": {"datum": 1.2}}},
    {"mark": {"type": "rule", "color": "black", "strokeWidth": 1.8}, "encoding": {"x": {"datum": 72.9, "scale": {"domain": [-34.143, 134.667], "nice": false, "zero": false}, "axis": null}, "x2": {"datum": 80.3}, "y": {"datum": 1.033, "scale": {"domain": [-1.6695, 5.4108], "nice": false, "zero": false}, "axis": null}}},
    {"mark": {"type": "point", "shape": "triangle-up", "filled": true, "opacity": 1, "color": "black", "size": 190}, "encoding": {"x": {"datum": 76.7, "scale": {"domain": [-34.143, 134.667], "nice": false, "zero": false}, "axis": null}, "y": {"datum": 1.033, "scale": {"domain": [-1.6695, 5.4108], "nice": false, "zero": false}, "axis": null}}},
    {"mark": {"type": "text", "text": "YFP-16", "align": "left", "baseline": "middle", "fontSize": 21}, "encoding": {"x": {"datum": 82.5, "scale": {"domain": [-34.143, 134.667], "nice": false, "zero": false}, "axis": null}, "y": {"datum": 1.033, "scale": {"domain": [-1.6695, 5.4108], "nice": false, "zero": false}, "axis": null}}},
    {"mark": {"type": "rule", "color": "#999999", "strokeWidth": 1.5}, "encoding": {"x": {"datum": 72.9, "scale": {"domain": [-34.143, 134.667], "nice": false, "zero": false}, "axis": null}, "x2": {"datum": 80.3}, "y": {"datum": 0.921, "scale": {"domain": [-1.6695, 5.4108], "nice": false, "zero": false}, "axis": null}}},
    {"mark": {"type": "point", "shape": "circle", "filled": true, "opacity": 1, "color": "#999999", "size": 140}, "encoding": {"x": {"datum": 76.7, "scale": {"domain": [-34.143, 134.667], "nice": false, "zero": false}, "axis": null}, "y": {"datum": 0.921, "scale": {"domain": [-1.6695, 5.4108], "nice": false, "zero": false}, "axis": null}}},
    {"mark": {"type": "text", "text": "GIN", "align": "left", "baseline": "middle", "fontSize": 21}, "encoding": {"x": {"datum": 82.5, "scale": {"domain": [-34.143, 134.667], "nice": false, "zero": false}, "axis": null}, "y": {"datum": 0.921, "scale": {"domain": [-1.6695, 5.4108], "nice": false, "zero": false}, "axis": null}}},
    {"mark": {"type": "text", "text": "D", "align": "left", "baseline": "alphabetic", "fontSize": 25}, "encoding": {"x": {"datum": -23.3, "scale": {"domain": [-34.143, 134.667], "nice": false, "zero": false}, "axis": null}, "y": {"datum": 1.18, "scale": {"domain": [-1.6695, 5.4108], "nice": false, "zero": false}, "axis": null}}}
   ]},
  {"data": {"name": "dd"},
   "transform": [{"filter": "datum.freq === 200"}],
   "encoding": {
     "x": {"field": "freq", "type": "quantitative", "scale": {"domain": [53.927, 222.733], "nice": false, "zero": false},
           "axis": {"orient": "bottom", "offset": -415, "values": [200], "tickSize": 9, "labelPadding": 12, "title": null}},
     "y": {"field": "mean", "type": "quantitative", "scale": {"domain": [-1.6695, 5.4108], "nice": false, "zero": false}, "axis": null}
   },
   "layer": [
    {"transform": [{"filter": "datum.line === 'GIN'"}], "mark": {"type": "errorbar", "ticks": {"size": 10}, "thickness": 1.5, "color": "#999999"}, "encoding": {"y": {"field": "low", "type": "quantitative", "axis": null}, "y2": {"field": "high"}}},
    {"transform": [{"filter": "datum.line === 'GIN'"}], "mark": {"type": "point", "shape": "circle", "filled": true, "opacity": 1, "color": "#999999", "size": 140}},
    {"transform": [{"filter": "datum.line === 'YFP-16'"}], "mark": {"type": "errorbar", "ticks": {"size": 10}, "thickness": 1.5, "color": "black"}, "encoding": {"y": {"field": "low", "type": "quantitative", "axis": null}, "y2": {"field": "high"}}},
    {"transform": [{"filter": "datum.line === 'YFP-16'"}], "mark": {"type": "point", "shape": "triangle-up", "filled": true, "opacity": 1, "color": "black", "size": 190}}
   ]},
  {"data": {"values": [{}]},
   "layer": [
    {"mark": {"type": "rule", "color": "black", "strokeWidth": 1.6, "strokeCap": "square"}, "encoding": {"x": {"datum": 191.9, "scale": {"domain": [53.927, 222.733], "nice": false, "zero": false}, "axis": null}, "x2": {"datum": 207.9}, "y": {"datum": 0, "scale": {"domain": [-1.6695, 5.4108], "nice": false, "zero": false}, "axis": null}}}
   ]},
  {"data": {"name": "ee"},
   "encoding": {
     "x": {"field": "freq", "type": "quantitative", "scale": {"domain": [-29.390, 118.248], "nice": false, "zero": false},
           "axis": {"orient": "bottom", "offset": -79.3, "values": [0,10,20,30,40,50,60,70,80,90,100], "labelExpr": "datum.value % 20 === 0 ? datum.label : ''", "tickSize": {"condition": {"test": "datum.value % 20 === 0", "value": 10}, "value": 5}, "labelPadding": 10, "title": "Stimulation frequency (Hz)", "titleFontSize": 24.5, "titleX": 403, "titleY": 66, "titleBaseline": "alphabetic"}},
     "y": {"field": "mean", "type": "quantitative", "scale": {"domain": [-2.932, 53.77], "nice": false, "zero": false},
           "axis": {"orient": "left", "offset": -137.3, "values": [0,2,4,6,8], "tickSize": 11, "labelPadding": 7, "title": "Norm. charge transfer", "titleFontSize": 24.7, "titleX": -73, "titleY": 1550, "titleBaseline": "middle"}}
   },
   "layer": [
    {"transform": [{"filter": "datum.line === 'GIN'"}], "mark": {"type": "errorbar", "ticks": {"size": 8}, "thickness": 1.5, "color": "#888888"}, "encoding": {"y": {"field": "low", "type": "quantitative"}, "y2": {"field": "high"}}},
    {"transform": [{"filter": "datum.line === 'GIN'"}], "mark": {"type": "line", "color": "#808080", "strokeWidth": 1.5}},
    {"transform": [{"filter": "datum.line === 'GIN'"}], "mark": {"type": "point", "shape": "circle", "filled": true, "opacity": 1, "color": "#888888", "size": 140}},
    {"transform": [{"filter": "datum.line === 'YFP-16'"}], "mark": {"type": "errorbar", "ticks": {"size": 8}, "thickness": 1.5, "color": "black"}, "encoding": {"y": {"field": "low", "type": "quantitative"}, "y2": {"field": "high"}}},
    {"transform": [{"filter": "datum.line === 'YFP-16'"}], "mark": {"type": "line", "color": "black", "strokeWidth": 1.8}},
    {"transform": [{"filter": "datum.line === 'YFP-16'"}], "mark": {"type": "point", "shape": "triangle-up", "filled": true, "opacity": 1, "color": "black", "size": 180}}
   ]},
  {"data": {"values": [{}]},
   "layer": [
    {"mark": {"type": "rule", "color": "black", "strokeWidth": 1.6, "strokeCap": "square"}, "encoding": {"x": {"datum": -2.36, "scale": {"domain": [-29.390, 118.248], "nice": false, "zero": false}, "axis": null}, "x2": {"datum": 100}, "y": {"datum": -0.377, "scale": {"domain": [-2.932, 53.77], "nice": false, "zero": false}, "axis": null}}},
    {"mark": {"type": "rule", "color": "black", "strokeWidth": 1.6, "strokeCap": "square"}, "encoding": {"x": {"datum": -2.36, "scale": {"domain": [-29.390, 118.248], "nice": false, "zero": false}, "axis": null}, "y": {"datum": -0.377, "scale": {"domain": [-2.932, 53.77], "nice": false, "zero": false}, "axis": null}, "y2": {"datum": 8}}},
    {"mark": {"type": "text", "text": "E", "align": "left", "baseline": "alphabetic", "fontSize": 25}, "encoding": {"x": {"datum": -19.9, "scale": {"domain": [-29.390, 118.248], "nice": false, "zero": false}, "axis": null}, "y": {"datum": 8.24, "scale": {"domain": [-2.932, 53.77], "nice": false, "zero": false}, "axis": null}}}
   ]}
]
}
